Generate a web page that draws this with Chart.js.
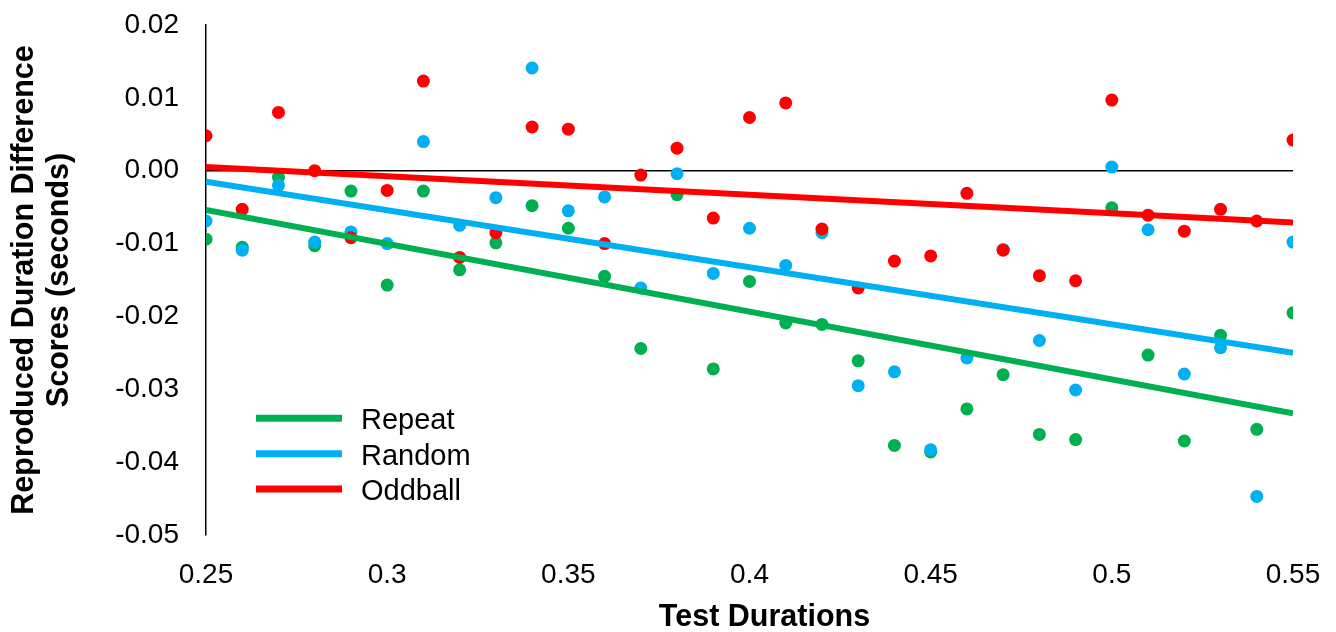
<!DOCTYPE html>
<html>
<head>
<meta charset="utf-8">
<script src="https://cdn.jsdelivr.net/npm/chart.js@4"></script>
<style>
  html, body { margin: 0; padding: 0; background: #fff; }
  #wrap { width: 1336px; height: 632px; }
</style>
</head>
<body>
<div id="wrap"><canvas id="c" width="1336" height="632"></canvas></div>
<script>
const testDurations = [0.25,0.26,0.27,0.28,0.29,0.30,0.31,0.32,0.33,0.34,0.35,0.36,0.37,0.38,0.39,0.40,0.41,0.42,0.43,0.44,0.45,0.46,0.47,0.48,0.49,0.50,0.51,0.52,0.53,0.54,0.55];
const repeatScores = [-0.0094,-0.0105,-0.0009,-0.0103,-0.0028,-0.0157,-0.0028,-0.0136,-0.0099,-0.0048,-0.0079,-0.0145,-0.0244,-0.0033,-0.0272,-0.0152,-0.0209,-0.0211,-0.0261,-0.0377,-0.0386,-0.0327,-0.0280,-0.0362,-0.0369,-0.0051,-0.0253,-0.0371,-0.0226,-0.0355,-0.0195];
const randomScores = [-0.0069,-0.0109,-0.0020,-0.0098,-0.0084,-0.0100,0.0040,-0.0075,-0.0037,0.0141,-0.0055,-0.0036,-0.0161,-0.0004,-0.0141,-0.0079,-0.0130,-0.0085,-0.0295,-0.0276,-0.0383,-0.0257,-0.0108,-0.0233,-0.0301,0.0005,-0.0081,-0.0279,-0.0243,-0.0447,-0.0098];
const oddballScores = [0.0048,-0.0053,0.0080,0.0000,-0.0092,-0.0027,0.0123,-0.0119,-0.0085,0.0060,0.0057,-0.0100,-0.0006,0.0031,-0.0065,0.0073,0.0093,-0.0080,-0.0161,-0.0124,-0.0117,-0.0031,-0.0109,-0.0144,-0.0151,0.0097,-0.0061,-0.0083,-0.0053,-0.0069,0.0042];
// Trend line end points (at x = 0.25 and x = 0.55)
const trendX = [0.25, 0.55];
const repeatTrend = [-0.0054, -0.0333];
const randomTrend = [-0.0015, -0.0250];
const oddballTrend = [0.0005, -0.0071];
const seriesNames = ['Repeat', 'Random', 'Oddball'];
const xAxisTitle = 'Test Durations';
const yAxisTitle = ['Reproduced Duration Difference', 'Scores (seconds)'];
const yTickMin = -0.05, yTickMax = 0.02, yStep = 0.01;
const xTickMin = 0.25, xTickMax = 0.55, xStep = 0.05;

const GREEN = '#00B050', BLUE = '#00B0F0', RED = '#FF0000';
const FONT = '"Liberation Sans", Arial, sans-serif';

function pts(xs, ys) { return xs.map((x, i) => ({ x: x, y: ys[i] })); }

function scatterDs(data, color, order) {
  return { type: 'scatter', data: data, backgroundColor: color, borderColor: color,
    pointRadius: 6.5, pointHoverRadius: 6.5, borderWidth: 0, order: order, showLine: false, isTrend: false };
}
function lineDs(label, data, color, order) {
  return { type: 'line', label: label, data: data, borderColor: color, backgroundColor: color,
    borderWidth: 6, pointRadius: 0, fill: false, tension: 0, order: order, isTrend: true };
}

const insideLegend = {
  id: 'insideLegend',
  afterDraw(chart) {
    const ctx = chart.ctx, a = chart.chartArea;
    const items = chart.data.datasets.filter(d => d.isTrend);
    ctx.save();
    ctx.font = '29px ' + FONT;
    ctx.textBaseline = 'middle';
    ctx.fillStyle = '#000';
    items.forEach((d, i) => {
      const y = a.top + 393.3 + i * 35.4;
      ctx.strokeStyle = d.borderColor;
      ctx.lineWidth = 7;
      ctx.beginPath();
      ctx.moveTo(a.left + 50, y);
      ctx.lineTo(a.left + 136, y);
      ctx.stroke();
      ctx.fillText(d.label, a.left + 155, y + 3);
    });
    // x-axis title (centred slightly right of the plot centre, as in the original)
    ctx.font = 'bold 30.5px ' + FONT;
    ctx.textAlign = 'center';
    ctx.fillText(xAxisTitle, (a.left + a.right) / 2 + 15, 618);
    ctx.restore();
  }
};

new Chart(document.getElementById('c'), {
  data: {
    datasets: [
      lineDs(seriesNames[0], pts(trendX, repeatTrend), GREEN, 2),
      lineDs(seriesNames[1], pts(trendX, randomTrend), BLUE, 1),
      lineDs(seriesNames[2], pts(trendX, oddballTrend), RED, 0),
      scatterDs(pts(testDurations, oddballScores), RED, 3),
      scatterDs(pts(testDurations, randomScores), BLUE, 4),
      scatterDs(pts(testDurations, repeatScores), GREEN, 5)
    ]
  },
  options: {
    responsive: false,
    animation: false,
    layout: { padding: { top: 25, right: 43, left: 0, bottom: 0 } },
    plugins: { legend: { display: false }, tooltip: { enabled: false } },
    scales: {
      x: {
        type: 'linear', min: xTickMin, max: xTickMax,
        afterFit: s => { s.height = 97; s.paddingLeft = 0; s.paddingRight = 0; },
        ticks: { stepSize: xStep, color: '#000', font: { family: FONT, size: 28 }, padding: 23,
          callback: v => String(Number(v.toFixed(2))) },
        grid: { display: false, drawTicks: false },
        border: { display: false },
        title: { display: false }
      },
      y: {
        type: 'linear', min: yTickMin, max: yTickMax,
        afterFit: s => { s.width = 206; s.paddingTop = 0; s.paddingBottom = 0; },
        ticks: { stepSize: yStep, color: '#000', font: { family: FONT, size: 28 }, padding: 27,
          callback: v => v.toFixed(2) },
        grid: { drawTicks: false, lineWidth: 1.5,
          color: c => (Math.abs(c.tick.value) < 1e-9 ? '#000' : 'rgba(0,0,0,0)') },
        border: { display: true, color: '#000', width: 1.5 },
        title: { display: true, text: yAxisTitle, color: '#000',
          font: { family: FONT, size: 30.5, weight: 'bold', lineHeight: 1.15 }, padding: { top: 7, bottom: 0 } }
      }
    }
  },
  plugins: [insideLegend]
});
</script>
</body>
</html>
